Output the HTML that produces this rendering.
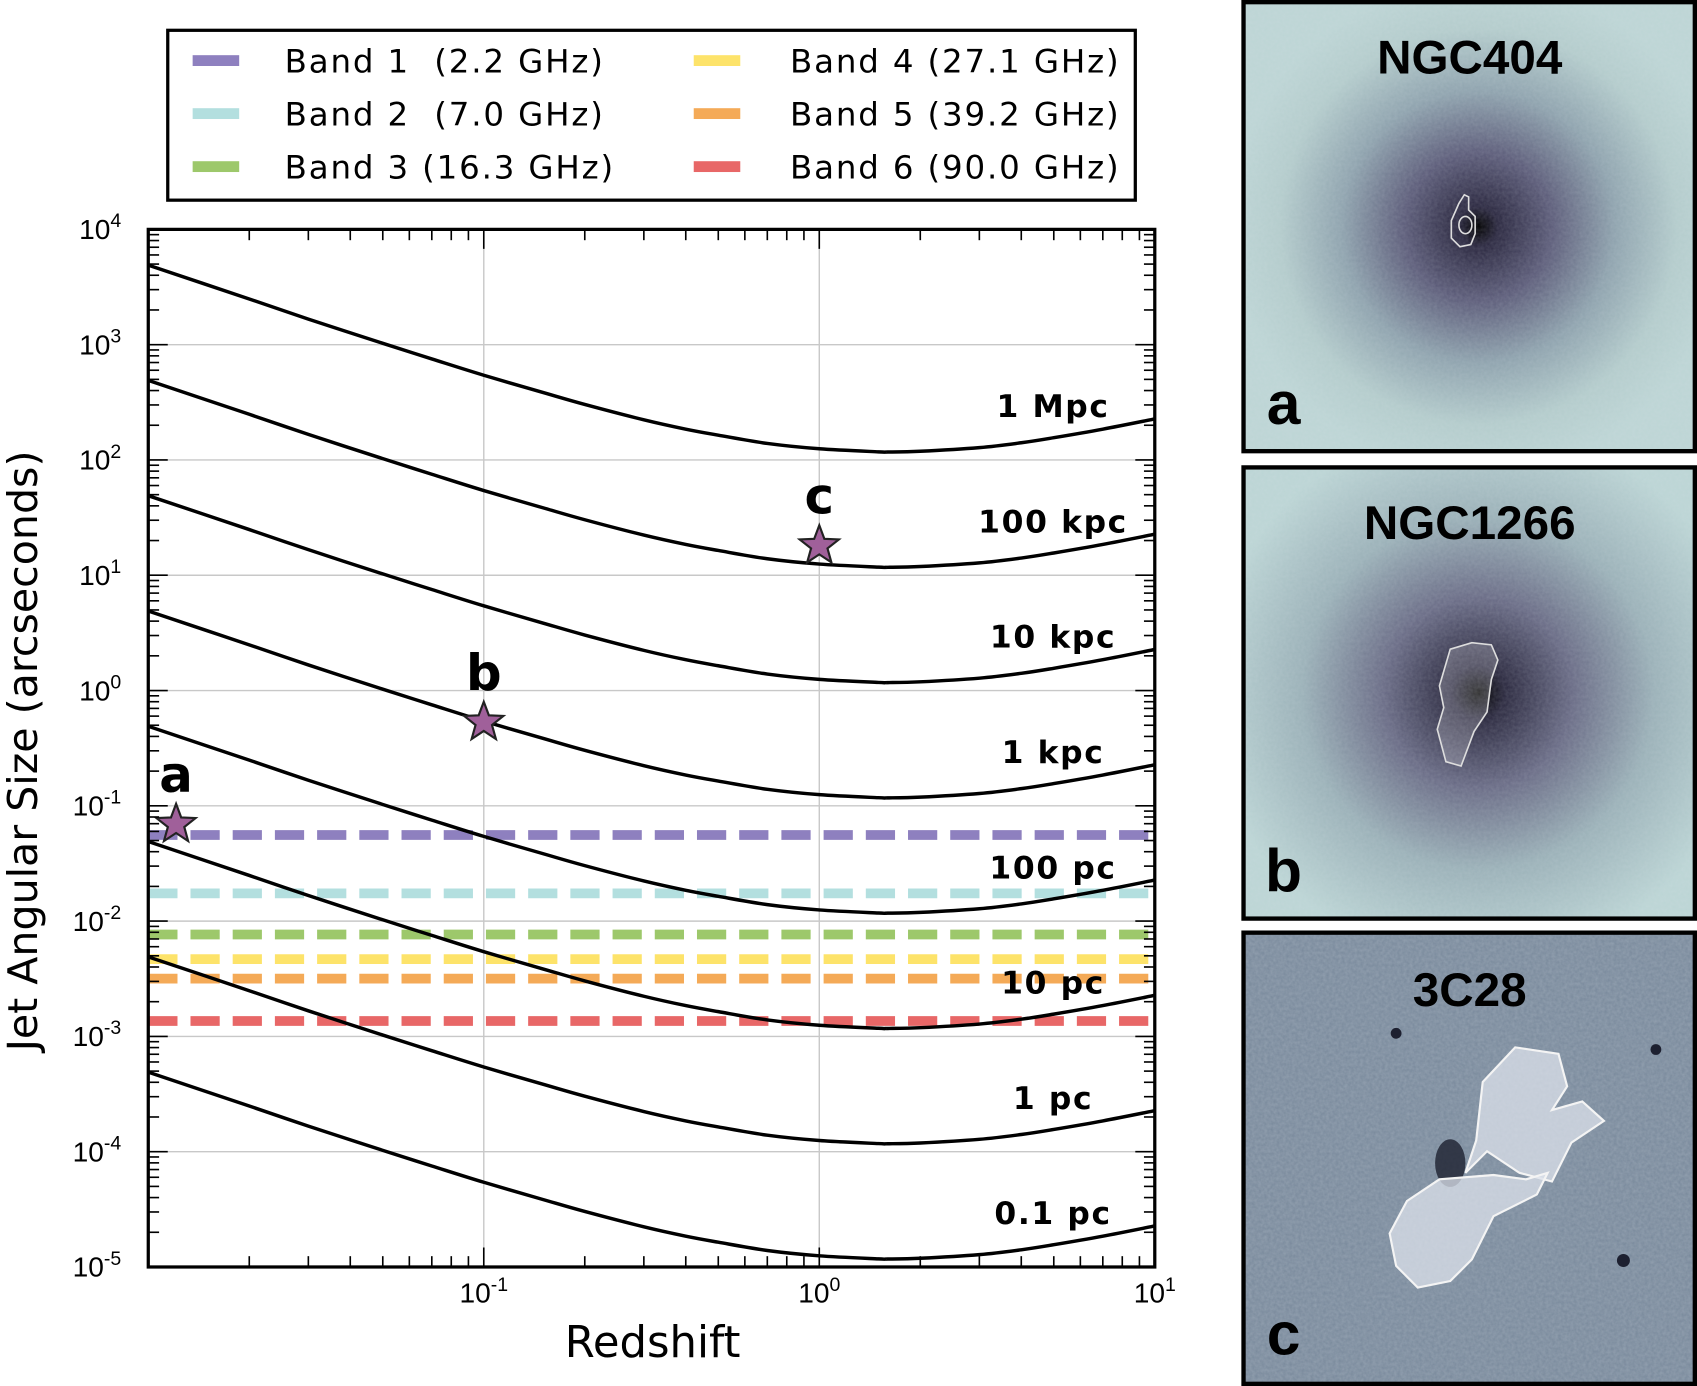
<!DOCTYPE html>
<html><head><meta charset="utf-8"><style>
html,body{margin:0;padding:0;background:#fff;}
svg{display:block;}
text{font-family:"Liberation Sans Narrow","Liberation Sans",sans-serif;}
.d{font-family:"DejaVu Sans","Liberation Sans",sans-serif;}
.b{font-family:"Liberation Sans",sans-serif;font-weight:bold;}
.db{font-family:"DejaVu Sans","Liberation Sans",sans-serif;font-weight:bold;}
</style></head><body>
<svg id="fig" width="1697" height="1386" viewBox="0 0 1568 1281" preserveAspectRatio="none" xmlns="http://www.w3.org/2000/svg">
<defs>
<radialGradient id="gA" cx="0.52" cy="0.5" r="0.55">
<stop offset="0" stop-color="#000"/><stop offset="0.08" stop-color="#2b2840"/><stop offset="0.3" stop-color="#5d5d7a"/><stop offset="0.55" stop-color="#8fa3ae"/><stop offset="0.8" stop-color="#b4cccc"/><stop offset="1" stop-color="#bdd5d5"/></radialGradient>
<radialGradient id="gB" cx="0.52" cy="0.5" r="0.6">
<stop offset="0" stop-color="#000"/><stop offset="0.1" stop-color="#2c2a40"/><stop offset="0.35" stop-color="#6a6c86"/><stop offset="0.65" stop-color="#9bb1b8"/><stop offset="1" stop-color="#bcd5d5"/></radialGradient>
<filter id="noise" x="0" y="0" width="1" height="1" filterUnits="objectBoundingBox"><feTurbulence type="fractalNoise" baseFrequency="0.35" numOctaves="2" seed="3"/><feColorMatrix values="0 0 0 0 0.75  0 0 0 0 0.8  0 0 0 0 0.85  0 0 0 0.55 -0.05"/></filter>
</defs>
<g id="chart"></g>
<g>
<rect x="155" y="28" width="894" height="157" fill="#fff" stroke="#000" stroke-width="3"/>
<g id="legend-items"></g>
</g>
<g>
<rect x="1149" y="2" width="417" height="415" fill="url(#gA)"/>
<rect x="1149" y="2" width="417" height="415" filter="url(#noise)" opacity="0.3"/>
<path d="M1348 188 l5 -8 4 2 0 12 6 6 0 16 -4 10 -10 2 -8 -8 0 -16z" fill="none" stroke="#ddd" stroke-width="1.5"/>
<ellipse cx="1354" cy="208" rx="6" ry="8" fill="none" stroke="#ddd" stroke-width="1.5"/>
<rect x="1149" y="2" width="417" height="415" fill="none" stroke="#000" stroke-width="4"/>
<text class="b" x="1358" y="68" font-size="44" text-anchor="middle">NGC404</text>
<text class="b" x="1186" y="392" font-size="56" text-anchor="middle">a</text>
</g>
<g>
<rect x="1149" y="432" width="417" height="417" fill="url(#gB)"/>
<rect x="1149" y="432" width="417" height="417" filter="url(#noise)" opacity="0.3"/>
<path d="M1340 600 l20 -6 18 2 6 14 -6 18 -4 30 -12 18 -12 32 -14 -4 -8 -30 6 -20 -4 -20z" fill="rgba(255,255,255,0.2)" stroke="#ddd" stroke-width="1.5"/>
<rect x="1149" y="432" width="417" height="417" fill="none" stroke="#000" stroke-width="4"/>
<text class="b" x="1358" y="498" font-size="44" text-anchor="middle">NGC1266</text>
<text class="b" x="1186" y="824" font-size="56" text-anchor="middle">b</text>
</g>
<g>
<rect x="1149" y="862" width="417" height="417" fill="#7b8b9d"/>
<rect x="1149" y="862" width="417" height="417" filter="url(#noise)" opacity="0.45"/>
<ellipse cx="1340" cy="1075" rx="14" ry="22" fill="#1d2030" opacity="0.8"/>
<circle cx="1290" cy="955" r="5" fill="#1d2030"/><circle cx="1530" cy="970" r="5" fill="#1d2030"/><circle cx="1500" cy="1165" r="6" fill="#1d2030"/>
<path d="M1370 1000 l30 -32 40 6 8 30 -14 22 28 -8 20 18 -30 20 -18 36 -30 -8 -30 -20 -20 20 10 -30z" fill="rgba(220,225,235,0.75)" stroke="#f4f4f4" stroke-width="2"/>
<path d="M1300 1110 l30 -20 50 -4 30 4 20 -6 -10 20 -40 20 -20 40 -20 20 -30 6 -20 -20 -6 -30z" fill="rgba(220,225,235,0.75)" stroke="#f4f4f4" stroke-width="2"/>
<rect x="1149" y="862" width="417" height="417" fill="none" stroke="#000" stroke-width="4"/>
<text class="b" x="1358" y="930" font-size="44" text-anchor="middle">3C28</text>
<text class="b" x="1186" y="1252" font-size="56" text-anchor="middle">c</text>
</g>
</svg>
<script>
// ---- data ----
const redshifts = [0.01,0.02,0.03,0.05,0.07,0.1,0.15,0.2,0.3,0.4,0.5,0.7,1,1.5,1.6,2,3,4,5,7,10];
const mpcArcsec = [4900,2490,1667,1027,752,543,385,303,223,185,164,139,125,117.6,117.2,119,128,141,156,185,227];
const curveScales = [1,0.1,0.01,0.001,0.0001,0.00001,0.000001,0.0000001];
const curveLabels = ["1 Mpc","100 kpc","10 kpc","1 kpc","100 pc","10 pc","1 pc","0.1 pc"];
const bandNames = ["Band 1\u00a0 (2.2 GHz)","Band 2\u00a0 (7.0 GHz)","Band 3 (16.3 GHz)","Band 4 (27.1 GHz)","Band 5 (39.2 GHz)","Band 6 (90.0 GHz)"];
const bandResolution = [0.0558,0.0174,0.00765,0.00468,0.00317,0.00136];
const bandColors = ["#8e80bf","#b3dfdf","#9dc86b","#fde36a","#f4aa57","#e86767"];
const starNames = ["a","b","c"];
const starZ = [0.0121,0.1,1.0];
const starSize = [0.069,0.53,18];
const xTicks = [-1,0,1];
const yTicks = [4,3,2,1,0,-1,-2,-3,-4,-5];

// ---- axes ----
const L=137,R=1067,T=212,B=1171;
const xmin=-2,xmax=1,ymin=-5,ymax=4;
const X=z=>L+(Math.log10(z)-xmin)/(xmax-xmin)*(R-L);
const Y=v=>B-(Math.log10(v)-ymin)/(ymax-ymin)*(B-T);
const NS="http://www.w3.org/2000/svg";
const chart=document.getElementById('chart');
function mk(tag,attrs,parent){const e=document.createElementNS(NS,tag);for(const k in attrs)e.setAttribute(k,attrs[k]);(parent||chart).appendChild(e);return e;}

const plotBg=mk('rect',{x:L,y:T,width:R-L,height:B-T,fill:'#fff'});


for(const k of xTicks){const g=mk('line',{x1:X(10**k),x2:X(10**k),y1:T,y2:B,stroke:'#c8c8c8','stroke-width':1.3});

}
for(const k of yTicks){const g=mk('line',{x1:L,x2:R,y1:Y(10**k),y2:Y(10**k),stroke:'#c8c8c8','stroke-width':1.3});

}

bandResolution.forEach((v,i)=>{const l=mk('line',{x1:L,x2:R,y1:Y(v),y2:Y(v),stroke:bandColors[i],'stroke-width':9,'stroke-dasharray':'27 12'});

});

function smoothPath(pts){let d='M'+pts[0][0]+' '+pts[0][1];
for(let i=0;i<pts.length-1;i++){const p0=pts[Math.max(0,i-1)],p1=pts[i],p2=pts[i+1],p3=pts[Math.min(pts.length-1,i+2)];
d+=' C'+(p1[0]+(p2[0]-p0[0])/6)+' '+(p1[1]+(p2[1]-p0[1])/6)+' '+(p2[0]-(p3[0]-p1[0])/6)+' '+(p2[1]-(p3[1]-p1[1])/6)+' '+p2[0]+' '+p2[1];}
return d;}
curveScales.forEach((s,i)=>{
 const pts=redshifts.map((z,j)=>[X(z),Y(mpcArcsec[j]*s)]);
 const p=mk('path',{d:smoothPath(pts),fill:'none',stroke:'#000','stroke-width':3.2});
 
 
 const t=mk('text',{x:973,y:Y(10**(2.55-i))+19,'font-size':29,'letter-spacing':1.5,'text-anchor':'middle',class:'db'});
 t.textContent=curveLabels[i];
 
 
});

function starPath(cx,cy,r){let d='';for(let k=0;k<10;k++){const a=-Math.PI/2+k*Math.PI/5,rr=k%2?r*0.42:r;d+=(k?'L':'M')+(cx+rr*Math.cos(a)).toFixed(1)+' '+(cy+rr*Math.sin(a)).toFixed(1);}return d+'Z';}
starNames.forEach((n,i)=>{const cx=X(starZ[i]),cy=Y(starSize[i]);
 const s=mk('path',{d:starPath(cx,cy,19),fill:'#a0609a',stroke:'#222','stroke-width':2});
 
 
 const t=mk('text',{x:cx,y:cy-30,'font-size':46,'text-anchor':'middle',class:'db'});
 t.textContent=n;
 
 });

const fr=mk('rect',{x:L,y:T,width:R-L,height:B-T,fill:'none',stroke:'#000','stroke-width':3});


for(let e=xmin;e<xmax;e++)for(let m=1;m<10;m++){const x=X(m*10**e);const len=m===1?18:10;
 if(m===1&&e===xmin)continue;
 mk('line',{x1:x,x2:x,y1:B,y2:B-len,stroke:'#000','stroke-width':1.5});
 mk('line',{x1:x,x2:x,y1:T,y2:T+len,stroke:'#000','stroke-width':1.5});}
for(let e=ymin;e<ymax;e++)for(let m=1;m<10;m++){const y=Y(m*10**e);const len=m===1?18:10;
 mk('line',{x1:L,x2:L+len,y1:y,y2:y,stroke:'#000','stroke-width':1.5});
 mk('line',{x1:R,x2:R-len,y1:y,y2:y,stroke:'#000','stroke-width':1.5});}

for(const k of xTicks){const t=mk('text',{x:X(10**k),y:B+33,'font-size':26,'text-anchor':'middle'});
 t.innerHTML='10<tspan dy="-11" font-size="18">'+k+'</tspan>';
 
 }
for(const k of yTicks){const t=mk('text',{x:112,y:Y(10**k)+9,'font-size':26,'text-anchor':'end'});
 t.innerHTML='10<tspan dy="-11" font-size="18">'+k+'</tspan>';
 
 }
const xt=mk('text',{x:603,y:1254,'font-size':40,'text-anchor':'middle',class:'d'});xt.textContent='Redshift';


const yt=mk('text',{x:0,y:0,'font-size':38,'text-anchor':'middle',class:'d',transform:'translate(34 694) rotate(-90)'});yt.textContent='Jet Angular Size (arcseconds)';



const lg=document.getElementById('legend-items');
bandNames.forEach((n,i)=>{const col=Math.floor(i/3),row=i%3;const sx=col?641:178,tx=col?730:263,y=56+row*49;
 const sw=mk('rect',{x:sx,y:y-5,width:43,height:10,fill:bandColors[i]},lg);
 
 
 const t=mk('text',{x:tx,y:y+11,'font-size':30,'letter-spacing':1.7,class:'d'},lg);t.textContent=n;
 
 });
</script>
</body></html>
